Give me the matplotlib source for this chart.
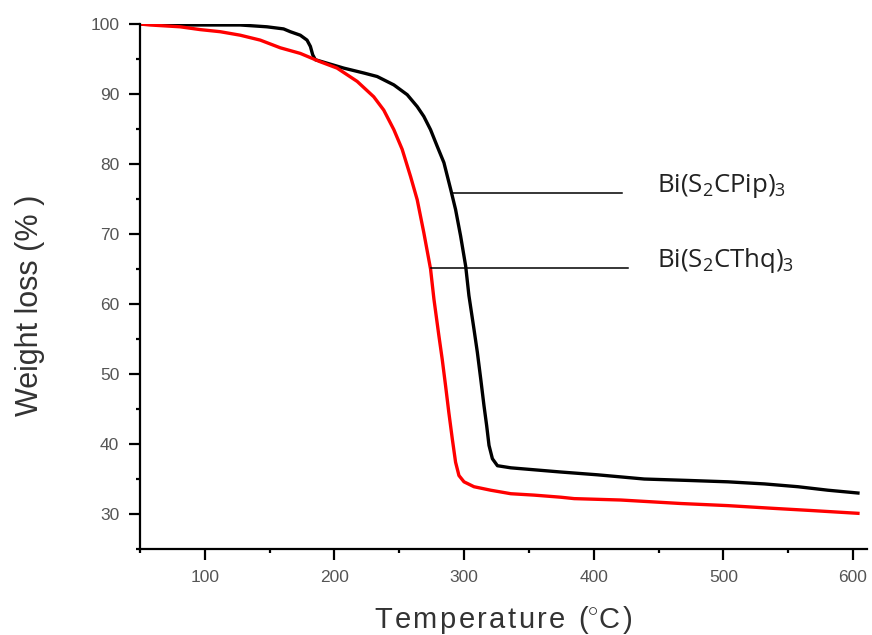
import matplotlib
matplotlib.use("Agg")
import matplotlib.pyplot as plt
from matplotlib.ticker import MultipleLocator

# TGA curves (temperature in C, weight in %)
PIP_TEMP = [50, 80.9, 127.3, 147.9, 160.7, 165.9, 173.6, 178.8, 181.4, 183.2, 185.2,
            194.3, 207.1, 222.6, 232.9, 245.8, 256.1, 263.8, 268.9, 274.1, 279.3,
            284.4, 289.6, 293.4, 297.3, 301.2, 303.7, 307.6, 310.2, 312.8, 315.3,
            317.4, 319.2, 321.8, 325.7, 336, 361.7, 374.6, 403, 438.9, 472.5, 503.4,
            531.7, 557.5, 580.7, 603.8]
PIP_WEIGHT = [100.0, 99.86, 99.86, 99.6, 99.3, 98.9, 98.4, 97.7, 96.8, 95.6, 94.9,
              94.4, 93.7, 93.0, 92.5, 91.3, 89.9, 88.2, 86.8, 84.9, 82.5,
              80.2, 76.4, 73.5, 69.7, 65.4, 61.2, 56.4, 53.1, 49.3, 45.5,
              42.6, 39.8, 37.9, 36.9, 36.6, 36.2, 36.0, 35.6, 35.0, 34.8, 34.6,
              34.3, 33.9, 33.4, 33.0]

THQ_TEMP = [50, 57.7, 80.9, 96.4, 111.8, 127.3, 142.7, 158.2, 173.6, 189.1, 202,
            217.5, 230.3, 238, 245.8, 252.2, 258.7, 263.8, 268.9, 274.1, 276.7,
            280.5, 283.1, 285.7, 288.2, 290.9, 293.4, 296, 299.9, 307.6, 320.5, 336,
            354, 374.6, 384.9, 420.9, 467.3, 503.4, 539.4, 567.8, 603.8]
THQ_WEIGHT = [100.0, 99.86, 99.6, 99.2, 98.9, 98.4, 97.7, 96.6, 95.8, 94.6, 93.7,
              91.8, 89.6, 87.7, 84.9, 82.1, 78.2, 74.9, 70.2, 65.0, 60.7,
              55.5, 52.1, 48.3, 44.5, 40.7, 37.4, 35.5, 34.6, 33.9, 33.4, 32.9,
              32.7, 32.4, 32.2, 32.0, 31.5, 31.2, 30.8, 30.5, 30.1]

# annotation leader lines: (x start, x end, y) and labels
LABEL_PIP = r"Bi(S$_2$CPip)$_3$"
LABEL_THQ = r"Bi(S$_2$CThq)$_3$"
LEADER_PIP = (290.9, 421.5, 75.8)
LEADER_THQ = (274.1, 426.4, 65.1)
LABEL_X = 448.8

XLABEL = "Temperature (°C)"
YLABEL = "Weight loss (% )"

plt.rcParams.update({
    "font.family": ["Liberation Sans", "DejaVu Sans"],
    "mathtext.fontset": "custom",
    "mathtext.rm": "Open Sans",
    "mathtext.it": "Open Sans:italic",
})

fig = plt.figure(figsize=(8.72, 6.35), dpi=100)
ax = fig.add_axes([0.1606, 0.1354, 0.834, 0.8268])

ax.plot(PIP_TEMP, PIP_WEIGHT, color="black", linewidth=2.4)
ax.plot(THQ_TEMP, THQ_WEIGHT, color="#ff0000", linewidth=2.4)

for (x0, x1, y), label in [(LEADER_PIP, LABEL_PIP), (LEADER_THQ, LABEL_THQ)]:
    ax.plot([x0, x1], [y, y], color="black", linewidth=1.1)
    ax.text(LABEL_X, y + 0.25, label, fontfamily="Open Sans", fontsize=18.5,
            color="#222222", va="baseline", ha="left")

ax.set_xlim(50, 611)
ax.set_ylim(25, 100)
ax.xaxis.set_major_locator(MultipleLocator(100))
ax.xaxis.set_minor_locator(MultipleLocator(50))
ax.yaxis.set_minor_locator(MultipleLocator(5))
ax.set_yticks(range(30, 101, 10))

for side in ("top", "right"):
    ax.spines[side].set_visible(False)
for side in ("left", "bottom"):
    ax.spines[side].set_linewidth(1.6)

ax.tick_params(which="major", direction="out", length=8, width=1.6,
               labelsize=12.5, labelcolor="#555555", pad=7)
ax.tick_params(which="minor", direction="out", length=3, width=1.6)

# the x label in the reference is letter-spaced, so put hair spaces between the glyphs
spaced_xlabel = "\u200a".join(XLABEL.replace("°", "")).replace("(\u200a", "($^{\\circ}$")
fig.text(0.5774, 0.024, spaced_xlabel, fontsize=21, color="#333333",
         ha="center", va="center")
fig.text(0.034, 0.519, YLABEL, fontsize=22, color="#333333",
         ha="center", va="center", rotation=90)

fig.savefig("out.png", dpi=100)
